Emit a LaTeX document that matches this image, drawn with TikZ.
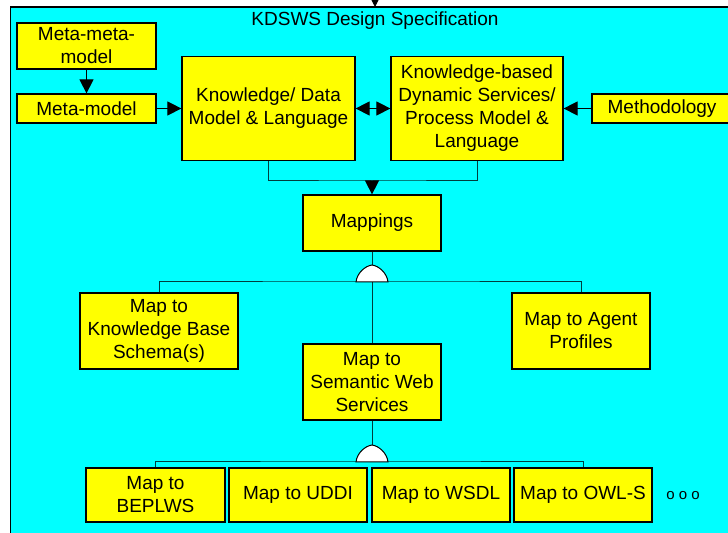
\documentclass[tikz,border=0pt]{standalone}
\usepackage{fontspec}
\setmainfont{Liberation Sans}
\usetikzlibrary{arrows.meta}

\definecolor{specbg}{RGB}{0,255,255}
\definecolor{boxfill}{RGB}{255,255,0}
\definecolor{linkcol}{RGB}{0,60,60}

\tikzset{
  box/.style={draw=black, fill=boxfill, line width=0.6pt, align=center, inner sep=1pt,
    font=\fontsize{9.5}{11.5}\selectfont},
  arr/.style={-{Triangle[length=7pt,width=7pt]}, line width=0.5pt},
  dblarr/.style={{Triangle[length=7pt,width=7pt]}-{Triangle[length=7pt,width=7pt]}, line width=0.5pt},
  link/.style={draw=linkcol, line width=0.5pt}
}

% and-gate symbol at a named coordinate
\newcommand{\andgate}[1]{%
  \filldraw[fill=white, line width=0.5pt, shift={(#1)}] (-16,0) .. controls (-15,-9) and (-7,-16) .. (0,-17)
    .. controls (7,-16) and (15,-9) .. (16,0) -- cycle;}

\begin{document}
\begin{tikzpicture}[x=0.5pt,y=-0.5pt]
\useasboundingbox (0,0) rectangle (728,533);
\fill[white] (0,0) rectangle (728,533);

% background region
\fill[specbg] (10.5,7) rectangle (740,545);
\draw[line width=0.6pt] (10.5,545) -- (10.5,7) -- (740,7);
\coordinate (top) at (375,-10);
\coordinate (topin) at (375,7);
\draw[arr] (top) -- (topin);
\node[font=\fontsize{9.5}{11.5}\selectfont] (title) at (375,21) {KDSWS Design Specification};

% upper row
\node[box, minimum width=139*0.5pt, minimum height=46*0.5pt] (metameta) at (86.5,46) {Meta-meta-\\model};
\node[box, minimum width=139*0.5pt, minimum height=29*0.5pt] (meta) at (86.5,108.5) {Meta-model};
\node[box, minimum width=173*0.5pt, minimum height=104*0.5pt] (kdm) at (268.5,108.5) {Knowledge/ Data\\Model \& Language};
\node[box, minimum width=172*0.5pt, minimum height=104*0.5pt] (kbds) at (477,108.5) {Knowledge-based\\Dynamic Services/\\Process Model \&\\Language};
\node[box, minimum width=140*0.5pt, minimum height=29*0.5pt] (meth) at (662,108.5) {Methodology};

\draw[arr] (metameta) -- (meta);
\draw[arr] (meta) -- (kdm);
\draw[dblarr] (kdm) -- (kbds);
\draw[arr] (meth) -- (kbds);

% mappings
\node[box, minimum width=138*0.5pt, minimum height=56*0.5pt] (mapp) at (372,223) {Mappings};
\coordinate (join) at (372,181);
\draw[link] (kdm.south) |- (join) -| (kbds.south);
\draw[arr] (join) -- (mapp);

\node[box, minimum width=158*0.5pt, minimum height=76*0.5pt] (mkb) at (159,331) {Map to\\Knowledge Base\\Schema(s)};
\node[box, minimum width=138*0.5pt, minimum height=76*0.5pt] (magent) at (581,331) {Map to Agent\\Profiles};
\node[box, minimum width=138*0.5pt, minimum height=76*0.5pt] (msws) at (372,382) {Map to\\Semantic Web\\Services};

\coordinate (g1) at (372,282);
\draw[link] (mapp) -- (g1);
\draw[link] (mkb.north) |- (g1) -| (magent.north);
\draw[link] (g1) -- (msws);
\andgate{g1}

% bottom row
\node[box, minimum width=139*0.5pt, minimum height=54*0.5pt] (mbep) at (155.5,495) {Map to\\BEPLWS};
\node[box, minimum width=138*0.5pt, minimum height=54*0.5pt] (muddi) at (298,495) {Map to UDDI};
\node[box, minimum width=138*0.5pt, minimum height=54*0.5pt] (mwsdl) at (441,495) {Map to WSDL};
\node[box, minimum width=138*0.5pt, minimum height=54*0.5pt] (mowl) at (583,495) {Map to OWL-S};
\node[font=\fontsize{7.5}{9}\selectfont] (more) at (683,496) {o o o};

\coordinate (g2) at (372,462);
\draw[link] (msws) -- (g2);
\draw[link] (mbep.north) |- (g2) -| (mowl.north);
\andgate{g2}

\end{tikzpicture}
\end{document}
